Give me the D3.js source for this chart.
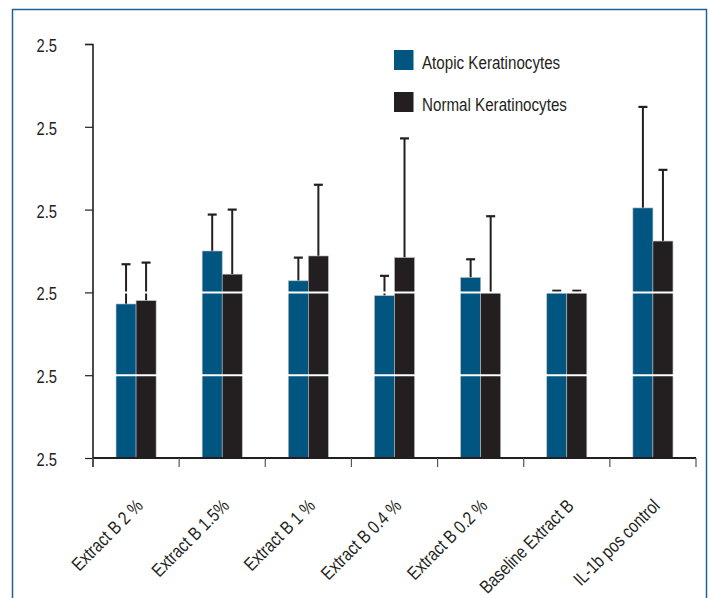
<!DOCTYPE html>
<html>
<head>
<meta charset="utf-8">
<script src="https://cdn.jsdelivr.net/npm/d3@7"></script>
<style>
  html, body { margin: 0; padding: 0; background: #fff; }
  svg text { font-family: "Liberation Sans", Arial, sans-serif; fill: #231f20; }
</style>
</head>
<body>
<svg id="chart" width="711" height="598"></svg>
<script>
// Treatment groups along the x axis
const categories = ["Extract B 2 %", "Extract B 1.5%", "Extract B 1 %", "Extract B 0.4 %", "Extract B 0.2 %", "Baseline Extract B", "IL-1b pos control"];
const series = ["Atopic Keratinocytes", "Normal Keratinocytes"];

// Mean response per group and its upper error
const atopic = [0.93, 1.25, 1.07, 0.98, 1.09, 1.00, 1.51];
const atopicErr = [0.24, 0.22, 0.14, 0.12, 0.11, 0.01, 0.61];
const normal = [0.95, 1.11, 1.22, 1.21, 1.00, 1.00, 1.31];
const normalErr = [0.23, 0.39, 0.43, 0.72, 0.46, 0.01, 0.43];

// Y axis ticks and the labels printed beside them
const yTicks = [0, 0.5, 1, 1.5, 2, 2.5];
const yTickLabels = ["2.5", "2.5", "2.5", "2.5", "2.5", "2.5"];
const gridValues = [0.5, 1];

const colors = ["#005581", "#231f20"];
const narrow = "scale(0.82,1)"; // condensed look for all text

const svg = d3.select("#chart");

// Frame around the figure
svg.append("rect")
  .attr("x", 12.5).attr("y", 9.5)
  .attr("width", 694).attr("height", 620)
  .attr("fill", "none").attr("stroke", "#1b6495").attr("stroke-width", 1.5);

const x = d3.scaleBand().domain(categories).range([93, 696]).paddingInner(0).paddingOuter(0);
const xSub = d3.scaleBand().domain(series).range([0, x.bandwidth()]).paddingInner(0).paddingOuter(1.15);
const y = d3.scaleLinear().domain([0, 2.5]).range([458, 44]);

const rows = categories.map((c, i) => ({
  cat: c,
  vals: [
    { s: series[0], v: atopic[i], e: atopicErr[i], col: colors[0] },
    { s: series[1], v: normal[i], e: normalErr[i], col: colors[1] }
  ]
}));

// Error bars (upper half only)
const errG = svg.append("g");
rows.forEach(r => {
  r.vals.forEach(d => {
    const cx = x(r.cat) + xSub(d.s) + xSub.bandwidth() / 2;
    errG.append("line")
      .attr("x1", cx).attr("x2", cx)
      .attr("y1", y(d.v)).attr("y2", y(d.v + d.e))
      .attr("stroke", "#231f20").attr("stroke-width", 2);
    errG.append("line")
      .attr("x1", cx - 4.5).attr("x2", cx + 4.5)
      .attr("y1", y(d.v + d.e)).attr("y2", y(d.v + d.e))
      .attr("stroke", "#231f20").attr("stroke-width", 2.2);
  });
});

// Bars
const groups = svg.append("g").selectAll("g").data(rows).join("g")
  .attr("transform", d => `translate(${x(d.cat)},0)`);
groups.selectAll("rect").data(d => d.vals).join("rect")
  .attr("x", d => xSub(d.s))
  .attr("width", xSub.bandwidth())
  .attr("y", d => y(d.v))
  .attr("height", d => y(0) - y(d.v))
  .attr("fill", d => d.col)
  .attr("stroke", "#b8bcc0").attr("stroke-width", 0.6);

// White gridlines crossing the bars
svg.append("g").selectAll("line").data(gridValues).join("line")
  .attr("x1", 94).attr("x2", 696)
  .attr("y1", d => y(d)).attr("y2", d => y(d))
  .attr("stroke", "#fff").attr("stroke-width", 2);

// Y axis
const yAxis = svg.append("g").attr("transform", "translate(93,0)")
  .call(d3.axisLeft(y).tickValues(yTicks).tickFormat((d, i) => yTickLabels[i]).tickSize(8).tickPadding(28));
yAxis.select(".domain").attr("stroke", "#231f20").attr("stroke-width", 1.6).attr("d", "M-8,44.5H0V467");
yAxis.selectAll(".tick line").attr("stroke", "#231f20").attr("stroke-width", 1.2);
yAxis.selectAll(".tick text")
  .attr("x", 0).attr("transform", `translate(-36,0) ${narrow}`)
  .attr("font-size", 18).attr("dy", "0.42em")
  .style("font-family", '"Liberation Sans", Arial, sans-serif').attr("fill", "#231f20");

// X axis with ticks at group boundaries
const xAxis = svg.append("g");
xAxis.append("line")
  .attr("x1", 93).attr("x2", x.range()[1])
  .attr("y1", y(0)).attr("y2", y(0))
  .attr("stroke", "#231f20").attr("stroke-width", 2);
const bounds = categories.map(c => x(c)).concat([x.range()[1]]);
xAxis.selectAll("line.tk").data(bounds).join("line").attr("class", "tk")
  .attr("x1", d => d).attr("x2", d => d)
  .attr("y1", y(0)).attr("y2", y(0) + 9)
  .attr("stroke", "#555").attr("stroke-width", 1.2);

// Rotated category labels
xAxis.selectAll("text").data(categories).join("text")
  .attr("transform", d => `translate(${x(d) + x.bandwidth() / 2 + 8},507) rotate(-45) ${narrow}`)
  .attr("text-anchor", "end")
  .attr("font-size", 18.5)
  .text(d => d);

// Legend
const legend = svg.append("g").attr("transform", "translate(394,50)");
series.forEach((s, i) => {
  legend.append("rect").attr("x", 0).attr("y", i * 42).attr("width", 19.5).attr("height", 20).attr("fill", colors[i]);
  legend.append("text").attr("transform", `translate(28,${i * 42 + 18.5}) ${narrow}`).attr("font-size", 18.5).text(s);
});
</script>
</body>
</html>
